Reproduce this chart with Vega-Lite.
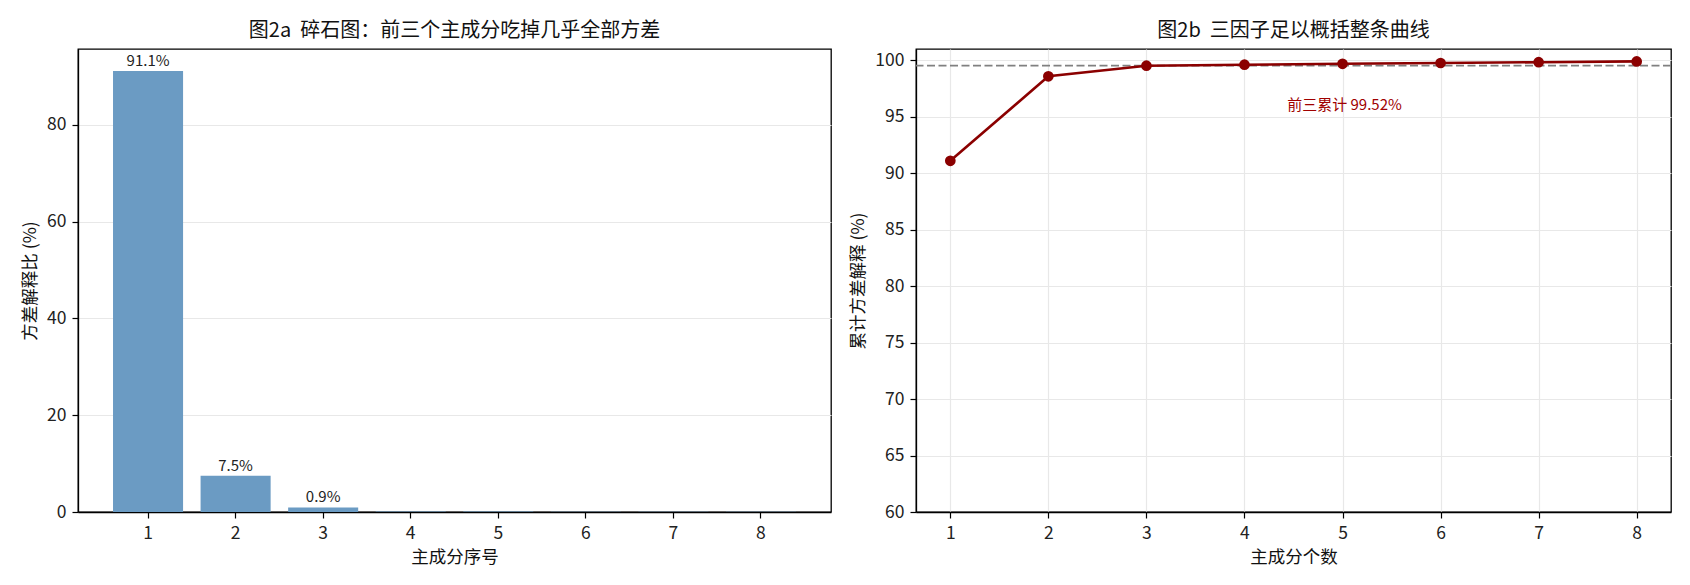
{
  "$schema": "https://vega.github.io/schema/vega-lite/v6.json",
  "background": "white",
  "padding": {"left": 20, "top": 20, "right": 10, "bottom": 5},
  "spacing": 17,
  "datasets": {
    "pca": [
      {"pc": 1, "ratio": 91.1, "cum": 91.1, "label": "91.1%"},
      {"pc": 2, "ratio": 7.48, "cum": 98.58, "label": "7.5%"},
      {"pc": 3, "ratio": 0.94, "cum": 99.52, "label": "0.9%"},
      {"pc": 4, "ratio": 0.09, "cum": 99.61, "label": ""},
      {"pc": 5, "ratio": 0.08, "cum": 99.69, "label": ""},
      {"pc": 6, "ratio": 0.07, "cum": 99.76, "label": ""},
      {"pc": 7, "ratio": 0.07, "cum": 99.83, "label": ""},
      {"pc": 8, "ratio": 0.07, "cum": 99.9, "label": ""}
    ],
    "note": [
      {"pc": 5.02, "cum": 96.0, "text": "前三累计 99.52%"}
    ],
    "ref": [
      {"cum": 99.52}
    ]
  },
  "hconcat": [
    {
      "width": 753,
      "height": 463,
      "title": {"text": "图2a\u00a0\u00a0碎石图：前三个主成分吃掉几乎全部方差"},
      "data": {"name": "pca"},
      "layer": [
        {
          "mark": {"type": "bar", "color": "#6b9bc3"},
          "encoding": {
            "x": {
              "field": "pc",
              "type": "ordinal",
              "title": "主成分序号",
              "scale": {"paddingInner": 0.2, "paddingOuter": 0.4},
              "axis": {"labelAngle": 0, "grid": false}
            },
            "y": {
              "field": "ratio",
              "type": "quantitative",
              "title": "方差解释比 (%)",
              "scale": {"domain": [0, 95.66], "nice": false, "zero": true},
              "axis": {"values": [0, 20, 40, 60, 80]}
            }
          }
        },
        {
          "transform": [{"filter": "datum.label != ''"}],
          "mark": {"type": "text", "baseline": "bottom", "dy": -2, "fontSize": 15, "color": "#222"},
          "encoding": {
            "x": {"field": "pc", "type": "ordinal"},
            "y": {"field": "ratio", "type": "quantitative"},
            "text": {"field": "label"}
          }
        }
      ]
    },
    {
      "width": 755,
      "height": 463,
      "title": {"text": "图2b\u00a0\u00a0三因子足以概括整条曲线"},
      "layer": [
        {
          "data": {"name": "ref"},
          "mark": {"type": "rule", "color": "#808080", "strokeDash": [8, 3.5], "strokeWidth": 1.8},
          "encoding": {
            "y": {"field": "cum", "type": "quantitative"}
          }
        },
        {
          "data": {"name": "pca"},
          "mark": {"type": "line", "color": "#8b0000", "strokeWidth": 2.6, "point": {"filled": true, "size": 115, "color": "#8b0000", "opacity": 1}},
          "encoding": {
            "x": {
              "field": "pc",
              "type": "quantitative",
              "title": "主成分个数",
              "scale": {"domain": [0.65, 8.35], "nice": false, "zero": false},
              "axis": {"values": [1, 2, 3, 4, 5, 6, 7, 8], "format": "d"}
            },
            "y": {
              "field": "cum",
              "type": "quantitative",
              "title": "累计方差解释 (%)",
              "scale": {"domain": [60, 101], "nice": false, "zero": false},
              "axis": {"values": [60, 65, 70, 75, 80, 85, 90, 95, 100]}
            }
          }
        },
        {
          "data": {"name": "note"},
          "mark": {"type": "text", "color": "#a00000", "fontSize": 15, "align": "center", "baseline": "middle"},
          "encoding": {
            "x": {"field": "pc", "type": "quantitative"},
            "y": {"field": "cum", "type": "quantitative"},
            "text": {"field": "text"}
          }
        }
      ]
    }
  ],
  "config": {
    "font": "Noto Sans CJK SC",
    "view": {"stroke": "#000", "strokeWidth": 1.3},
    "title": {"fontSize": 20, "fontWeight": "normal", "color": "#111", "offset": 8, "font": "Noto Sans CJK SC"},
    "axis": {
      "domainColor": "#000",
      "domainWidth": 1.3,
      "tickColor": "#000",
      "tickSize": 6,
      "tickWidth": 1.2,
      "labelFontSize": 17.5,
      "labelColor": "#222",
      "labelPadding": 6,
      "titleFontSize": 17.5,
      "titleFontWeight": "normal",
      "titleColor": "#111",
      "titlePadding": 7,
      "gridColor": "#e8e8e8",
      "gridWidth": 1.2,
      "labelFont": "Noto Sans CJK SC",
      "titleFont": "Noto Sans CJK SC"
    }
  }
}
